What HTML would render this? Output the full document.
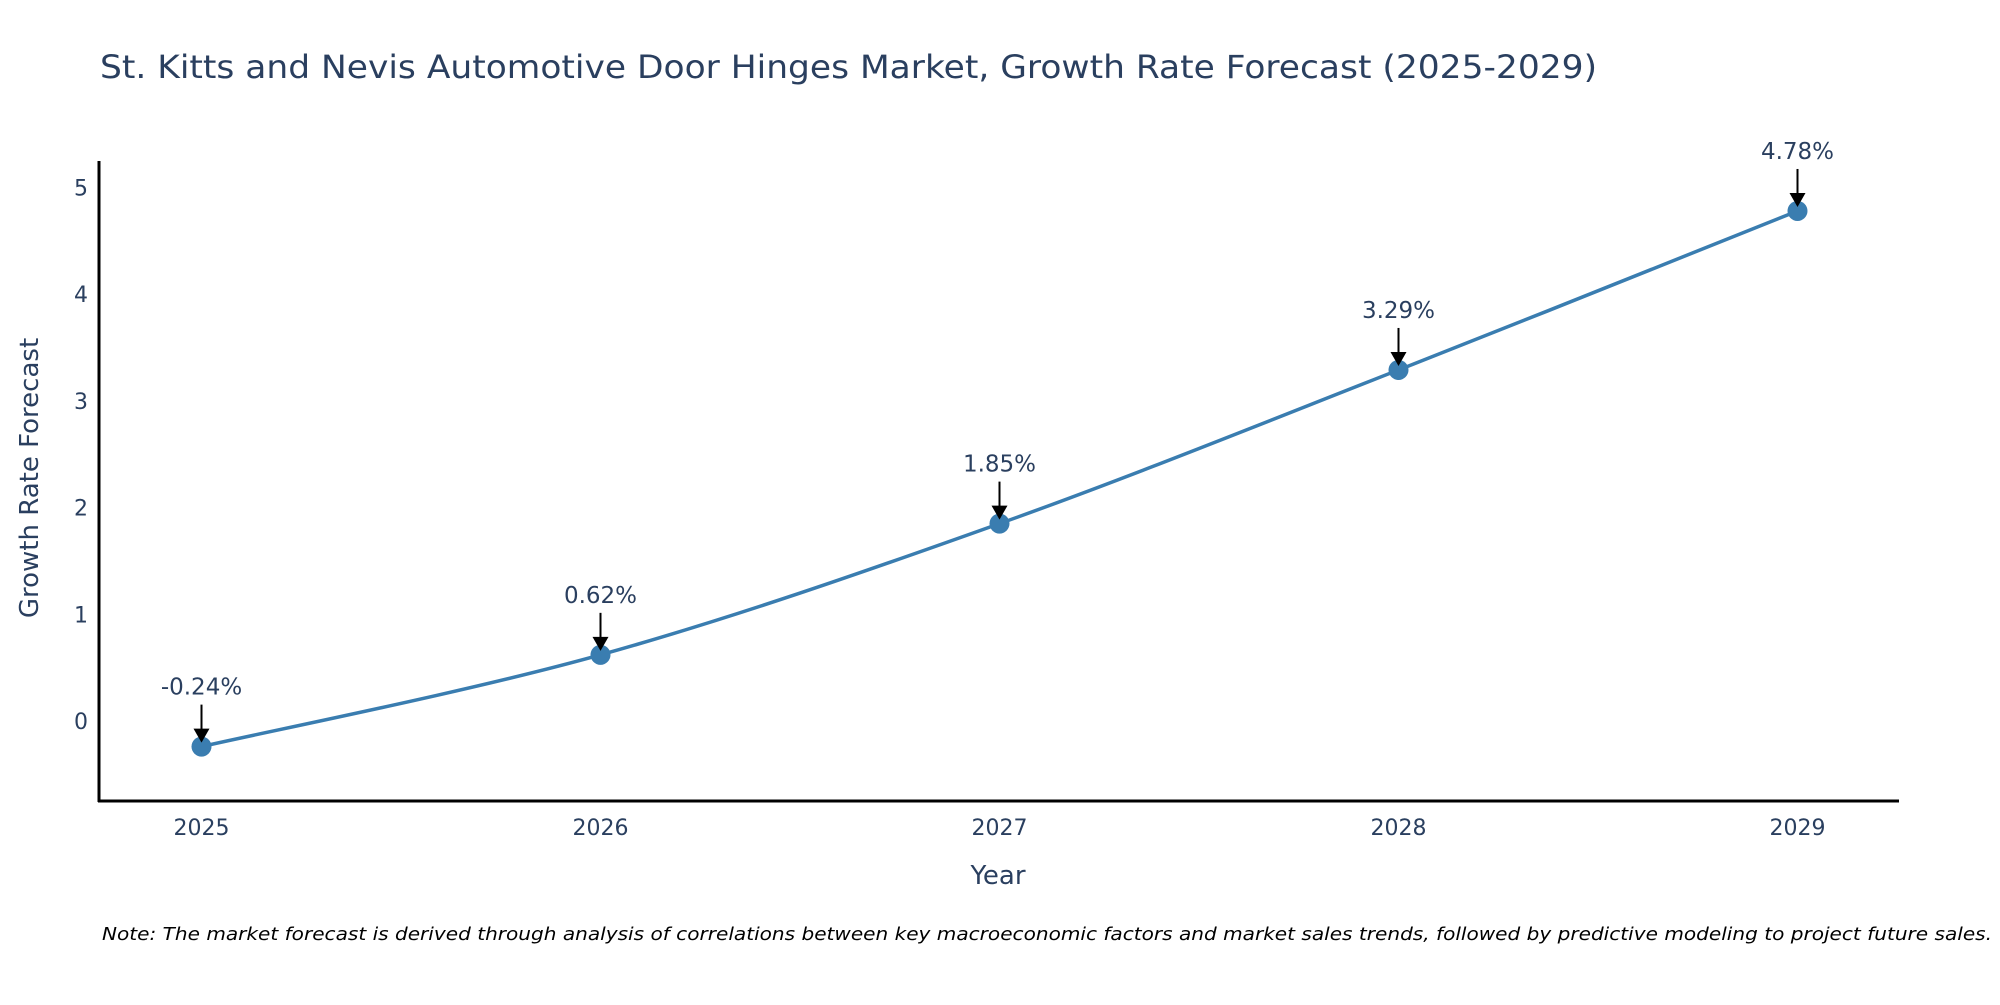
<!DOCTYPE html>
<html><head><meta charset="utf-8"><style>
body{margin:0;background:#fff;width:2000px;height:1000px;overflow:hidden}
svg text{font-family:"DejaVu Sans","Liberation Sans",sans-serif}
</style></head><body>
<svg id="chart" width="2000" height="1000">
<text x="100" y="78" font-size="32" fill="#2a3f5f" textLength="1497" lengthAdjust="spacingAndGlyphs">St. Kitts and Nevis Automotive Door Hinges Market, Growth Rate Forecast (2025-2029)</text>
<g id="yticks"></g>
<g id="xticks"></g>
<line x1="99" y1="161" x2="99" y2="802" stroke="#000" stroke-width="3"/>
<line x1="98" y1="801" x2="1899" y2="801" stroke="#000" stroke-width="3"/>
<path id="line" fill="none" stroke="#3a7db0" stroke-width="3.5"/>
<g id="points"></g>
<g id="annots"></g>
<text x="998" y="884" font-size="26" fill="#2a3f5f" text-anchor="middle">Year</text>
<text transform="translate(38,478) rotate(-90)" font-size="26" fill="#2a3f5f" text-anchor="middle">Growth Rate Forecast</text>
<text x="102" y="940" font-size="18" font-style="italic" fill="#000" textLength="1890" lengthAdjust="spacingAndGlyphs">Note: The market forecast is derived through analysis of correlations between key macroeconomic factors and market sales trends, followed by predictive modeling to project future sales.</text>
</svg>
<script>
const years=[2025,2026,2027,2028,2029];
const values=[-0.24,0.62,1.85,3.29,4.78];
const labels=["-0.24%","0.62%","1.85%","3.29%","4.78%"];
const yTicks=[0,1,2,3,4,5];
const NS="http://www.w3.org/2000/svg";
function X(v){return 201.5+(v-2025)*399;}
function Y(v){return 721-v*106.7;}
function mk(tag,attrs,parent,text){const e=document.createElementNS(NS,tag);for(const k in attrs)e.setAttribute(k,attrs[k]);if(text!==undefined)e.textContent=text;parent.appendChild(e);return e;}
const yt=document.getElementById('yticks');
yTicks.forEach(t=>{const e=mk('text',{x:88,y:Y(t)+8,'font-size':22,fill:'#2a3f5f','text-anchor':'end'},yt,String(t));

});
const xt=document.getElementById('xticks');
years.forEach(t=>{const e=mk('text',{x:X(t),y:835,'font-size':22,fill:'#2a3f5f','text-anchor':'middle'},xt,String(t));

});
const pts=years.map((y,i)=>[X(y),Y(values[i])]);
let d="M"+pts[0][0]+","+pts[0][1];
const s=0.5/3*2;
for(let i=0;i<pts.length-1;i++){const p0=pts[Math.max(0,i-1)],p1=pts[i],p2=pts[i+1],p3=pts[Math.min(pts.length-1,i+2)];
const c1=[p1[0]+(p2[0]-p0[0])*s/2,p1[1]+(p2[1]-p0[1])*s/2];
const c2=[p2[0]-(p3[0]-p1[0])*s/2,p2[1]-(p3[1]-p1[1])*s/2];
d+=" C"+c1+" "+c2+" "+p2;}
document.getElementById('line').setAttribute('d',d);
const pg=document.getElementById('points'),ag=document.getElementById('annots');
pts.forEach((p,i)=>{const c=mk('circle',{cx:p[0],cy:p[1],r:10,fill:'#3a7db0'},pg);


const l=mk('line',{x1:p[0],y1:p[1]-42,x2:p[0],y2:p[1]-14,stroke:'#000','stroke-width':2},ag);


const a=mk('path',{d:`M${p[0]-8},${p[1]-18} L${p[0]+8},${p[1]-18} L${p[0]},${p[1]-4} Z`,fill:'#000'},ag);


const t=mk('text',{x:p[0],y:p[1]-52,'font-size':23,fill:'#2a3f5f','text-anchor':'middle'},ag,labels[i]);

});
</script>
</body></html>
